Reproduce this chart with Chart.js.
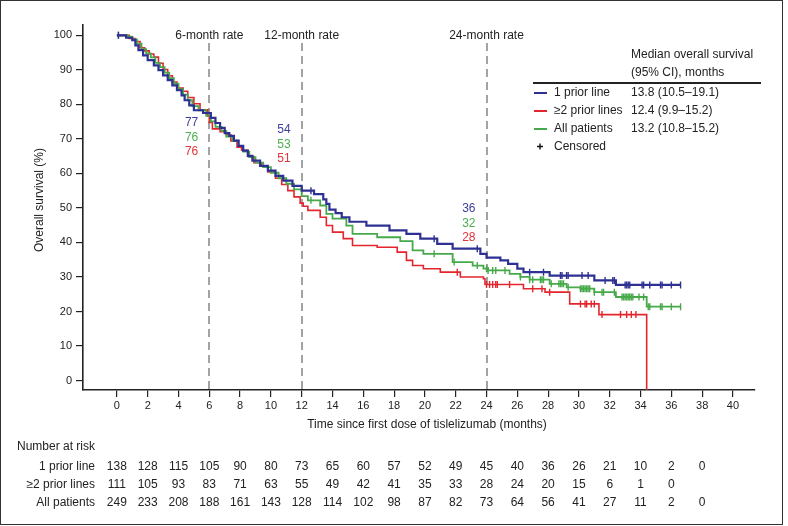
<!DOCTYPE html>
<html><head><meta charset="utf-8">
<script src="https://cdn.jsdelivr.net/npm/chart.js@4.4.0/dist/chart.umd.min.js"></script>
<style>html,body{margin:0;padding:0;background:#fff}#wrap{position:relative;width:788px;height:526px}</style>
</head><body><div id="wrap"><canvas id="c" width="788" height="526"></canvas></div>
<script>
// ---- data ----
const Y_MIN = -2.75, Y_MAX = 103, X_MIN = -2.2, X_MAX = 41.4;
const xTickValues = [0,2,4,6,8,10,12,14,16,18,20,22,24,26,28,30,32,34,36,38,40];
const yTickValues = [0,10,20,30,40,50,60,70,80,90,100];
const seriesNames = ['1 prior line', '\u22652 prior lines', 'All patients'];
const medianLabels = ['13.8 (10.5\u201319.1)', '12.4 (9.9\u201315.2)', '13.2 (10.8\u201315.2)'];
const rateMonths = [6, 12, 24];
const rateOnePrior = [77, 54, 36];
const rateAll = [76, 53, 32];
const rateTwoPlus = [76, 51, 28];

const onePriorSteps = [[0,100],[0.6,99.3],[1.0,98.6],[1.2,97.1],[1.4,95.7],[1.7,94.2],[2.0,92.8],[2.4,91.3],[2.7,89.9],[3.0,88.4],[3.3,87.0],[3.6,85.5],[3.9,84.1],[4.2,82.6],[4.4,81.2],[4.7,79.7],[5.0,78.3],[5.6,77.5],[6.1,76.1],[6.4,74.6],[6.7,73.2],[7.0,71.7],[7.3,70.9],[7.6,69.5],[7.9,68.0],[8.2,66.6],[8.5,65.1],[8.8,63.7],[9.3,62.2],[9.8,60.8],[10.3,59.3],[10.8,57.9],[11.4,56.4],[12.0,55.0],[12.8,54.0],[13.4,52.5],[13.6,51.2],[13.8,49.5],[14.2,48.5],[14.6,47.3],[15.1,46.0],[16.2,44.9],[17.7,43.5],[18.8,42.5],[19.7,41.1],[20.8,39.6],[21.8,38.2],[23.6,36.7],[24.0,35.6],[24.9,34.8],[25.4,33.8],[26.0,32.4],[26.4,31.4],[28.1,30.4],[31.0,29.0],[32.4,27.7],[36.6,27.7]];
const allSteps = [[0,100],[0.7,99.6],[1.0,98.8],[1.3,97.6],[1.6,96.0],[1.9,94.8],[2.2,93.6],[2.5,92.0],[2.8,90.8],[3.1,89.2],[3.4,87.6],[3.7,86.0],[4.0,84.4],[4.3,82.8],[4.6,81.2],[4.9,79.5],[5.3,78.3],[5.8,76.7],[6.1,75.1],[6.4,73.5],[6.8,72.3],[7.1,70.7],[7.5,69.5],[7.9,67.9],[8.2,66.3],[8.6,64.7],[9.0,63.1],[9.5,61.8],[10.0,60.2],[10.5,58.6],[11.0,57.0],[11.5,55.4],[12.0,53.4],[12.4,52.2],[13.2,50.7],[13.6,48.3],[14.0,46.9],[14.9,44.9],[15.3,42.5],[16.9,41.5],[18.4,40.4],[19.2,37.7],[19.9,36.7],[21.8,34.3],[23.1,33.3],[23.8,32.4],[24.1,31.9],[25.5,30.9],[26.2,30.0],[26.8,29.2],[28.1,28.0],[29.2,27.0],[30.1,26.6],[31.0,25.6],[32.4,24.2],[34.4,21.4],[36.6,21.4]];
const twoPlusSteps = [[0,100],[0.8,99.1],[1.2,98.2],[1.5,96.4],[1.8,95.5],[2.1,94.6],[2.4,93.7],[2.7,91.9],[3.0,90.1],[3.3,88.3],[3.6,86.5],[3.9,84.7],[4.3,83.8],[4.6,82.0],[5.0,80.2],[5.4,78.4],[5.9,76.6],[6.0,74.8],[6.2,72.9],[6.7,72.1],[7.1,71.2],[7.4,69.4],[7.8,67.6],[8.1,66.7],[8.5,64.9],[8.9,63.1],[9.4,62.2],[9.8,60.4],[10.3,58.6],[10.7,56.8],[11.1,55.0],[11.5,53.2],[11.9,51.4],[12.1,50.5],[12.4,49.3],[13.2,47.3],[13.6,44.9],[14.0,43.0],[14.7,41.1],[15.3,39.1],[16.9,38.6],[18.2,37.2],[18.8,34.8],[19.2,33.3],[19.9,32.4],[21.0,31.4],[22.3,30.0],[23.8,29.5],[23.9,27.8],[26.4,26.6],[27.8,25.6],[29.4,22.2],[31.3,19.1],[34.4,Y_MIN]];

const onePriorCensored = [0.1,12.6,20.6,23.4,26.8,27.7,28.8,28.9,29.2,29.3,30.2,30.6,31.7,32.2,32.3,33.0,33.1,33.2,33.3,34.1,34.2,34.6,35.3,35.4,36.0,36.6];
const allCensored = [0.1,12.6,20.6,21.9,23.4,24.0,24.1,24.4,24.6,25.2,26.2,26.8,27.0,27.5,27.6,27.7,28.2,28.7,28.8,28.9,29.0,29.3,30.1,30.2,30.3,30.4,30.5,30.6,30.7,31.0,31.5,31.6,32.3,32.8,32.9,33.0,33.1,33.2,33.3,33.4,33.5,33.9,34.2,34.5,34.6,35.3,35.4,36.0,36.6];
const twoPlusCensored = [22.1,24.0,24.2,24.4,24.6,24.7,25.5,27.0,27.6,28.1,30.1,30.4,30.5,30.8,31.0,31.5,32.7,33.1,33.4,33.7];

const riskMonths = [0,2,4,6,8,10,12,14,16,18,20,22,24,26,28,30,32,34,36,38];
const riskOnePrior = [138,128,115,105,90,80,73,65,60,57,52,49,45,40,36,26,21,10,2,0];
const riskTwoPlus = [111,105,93,83,71,63,55,49,42,41,35,33,28,24,20,15,6,1,0];
const riskAll = [249,233,208,188,161,143,128,114,102,98,87,82,73,64,56,41,27,11,2,0];

// ---- styling ----
const BLUE = '#2e3192', RED = '#e3262d', GREEN = '#46a94a';
const RATE_BLUE = '#3d3f9c', RATE_RED = '#e0333a', RATE_GREEN = '#4fae50';
const FONT = '"Liberation Sans", Arial, sans-serif';
const TXT = '#222';

function toPoints(steps){ return steps.map(p => ({x:p[0], y:p[1]})); }
function survAt(steps, t){ let v = steps[0][1]; for (const p of steps){ if (p[0] <= t) v = p[1]; else break; } return v; }
function censorPoints(steps, times){ return times.map(t => ({x:t, y:survAt(steps, t)})); }

const lineDs = (label, steps, color, w) => ({label, data: toPoints(steps), borderColor: color, backgroundColor: color, borderWidth: w, stepped: true, pointRadius: 0, fill: false, tension: 0});
const censDs = (label, steps, times, color) => ({type:'scatter', label, data: censorPoints(steps, times), borderColor: color, backgroundColor: color, pointStyle: 'line', rotation: 90, pointRadius: 3.5, borderWidth: 1.4, showLine: false});

const extras = {
  id: 'extras',
  beforeDatasetsDraw(chart){
    const ctx = chart.ctx, xs = chart.scales.x, ys = chart.scales.y;
    ctx.save();
    ctx.strokeStyle = '#a3a3a3'; ctx.lineWidth = 2; ctx.setLineDash([8,5]);
    rateMonths.forEach(m => {
      const px = Math.round(xs.getPixelForValue(m));
      ctx.beginPath(); ctx.moveTo(px, 43); ctx.lineTo(px, ys.bottom); ctx.stroke();
    });
    ctx.restore();
  },
  afterDraw(chart){
    const ctx = chart.ctx, xs = chart.scales.x, ys = chart.scales.y;
    ctx.save();
    ctx.textBaseline = 'middle';
    // rate headers and values
    ctx.font = '12px ' + FONT; ctx.fillStyle = TXT; ctx.textAlign = 'center';
    rateMonths.forEach(m => ctx.fillText(m + '-month rate', xs.getPixelForValue(m), 36));
    const rateY = [[123,137.5,152],[130,144.5,159],[209,223.5,238]];
    ctx.textAlign = 'right';
    rateMonths.forEach((m, i) => {
      const px = xs.getPixelForValue(m) - 11;
      ctx.fillStyle = RATE_BLUE; ctx.fillText(String(rateOnePrior[i]), px, rateY[i][0]);
      ctx.fillStyle = RATE_GREEN; ctx.fillText(String(rateAll[i]), px, rateY[i][1]);
      ctx.fillStyle = RATE_RED; ctx.fillText(String(rateTwoPlus[i]), px, rateY[i][2]);
    });
    // legend
    ctx.textAlign = 'left'; ctx.fillStyle = TXT; ctx.font = '12px ' + FONT;
    ctx.fillText('Median overall survival', 631, 55);
    ctx.fillText('(95% CI), months', 631, 73);
    ctx.strokeStyle = '#222'; ctx.lineWidth = 2; ctx.beginPath(); ctx.moveTo(533, 83); ctx.lineTo(761, 83); ctx.stroke();
    const legColors = [BLUE, RED, GREEN], legY = [93, 111, 129];
    legColors.forEach((c, i) => {
      ctx.strokeStyle = c; ctx.lineWidth = 2; ctx.beginPath(); ctx.moveTo(534, legY[i]); ctx.lineTo(547, legY[i]); ctx.stroke();
      ctx.fillStyle = TXT; ctx.fillText(seriesNames[i], 554, legY[i]); ctx.fillText(medianLabels[i], 631, legY[i]);
    });
    ctx.strokeStyle = '#111'; ctx.lineWidth = 1.4; ctx.beginPath();
    ctx.moveTo(537, 146.5); ctx.lineTo(543, 146.5); ctx.moveTo(540, 143.5); ctx.lineTo(540, 149.5); ctx.stroke();
    ctx.fillText('Censored', 554, 147);
    // axis titles
    ctx.textAlign = 'center';
    ctx.fillText('Time since first dose of tislelizumab (months)', 427, 425);
    ctx.save(); ctx.translate(40, 200); ctx.rotate(-Math.PI / 2);
    ctx.fillText('Overall survival (%)', 0, 0); ctx.restore();
    // number at risk
    ctx.textAlign = 'left'; ctx.fillText('Number at risk', 17, 447);
    const rows = [[seriesNames[0], riskOnePrior, 467], [seriesNames[1], riskTwoPlus, 485], [seriesNames[2], riskAll, 503]];
    rows.forEach(r => {
      ctx.textAlign = 'right'; ctx.fillText(r[0], 95, r[2]);
      ctx.textAlign = 'center';
      r[1].forEach((v, i) => ctx.fillText(String(v), xs.getPixelForValue(riskMonths[i]), r[2]));
    });
    // frame
    ctx.strokeStyle = '#333'; ctx.lineWidth = 1; ctx.strokeRect(0.5, 0.5, 782, 524);
    ctx.restore();
  }
};

new Chart(document.getElementById('c'), {
  type: 'line',
  data: { datasets: [
    lineDs(seriesNames[0], onePriorSteps, BLUE, 2.2),
    censDs('c1', onePriorSteps, onePriorCensored, BLUE),
    lineDs(seriesNames[2], allSteps, GREEN, 1.8),
    censDs('c3', allSteps, allCensored, GREEN),
    lineDs(seriesNames[1], twoPlusSteps, RED, 1.6),
    censDs('c2', twoPlusSteps, twoPlusCensored, RED)
  ]},
  options: {
    responsive: false, devicePixelRatio: 1, animation: false,
    layout: { padding: { left: 0, top: 25, right: 33.5, bottom: 0 } },
    plugins: { legend: { display: false }, tooltip: { enabled: false } },
    scales: {
      x: { type: 'linear', min: X_MIN, max: X_MAX,
        afterBuildTicks: s => { s.ticks = xTickValues.map(v => ({value: v})); },
        afterFit: s => { s.height = 136; },
        ticks: { font: { size: 11, family: FONT }, color: TXT, padding: 2, maxRotation: 0, autoSkip: false },
        grid: { drawOnChartArea: false, drawTicks: true, tickLength: 7, color: '#222', lineWidth: 1.2 },
        border: { display: true, color: '#222', width: 1.6 } },
      y: { type: 'linear', min: Y_MIN, max: Y_MAX,
        afterBuildTicks: s => { s.ticks = yTickValues.map(v => ({value: v})); },
        afterFit: s => { s.width = 83; },
        ticks: { font: { size: 11, family: FONT }, color: TXT, padding: 4, autoSkip: false },
        grid: { drawOnChartArea: false, drawTicks: true, tickLength: 7, color: '#222', lineWidth: 1.2 },
        border: { display: true, color: '#222', width: 1.6 } }
    }
  },
  plugins: [extras]
});
</script></body></html>
